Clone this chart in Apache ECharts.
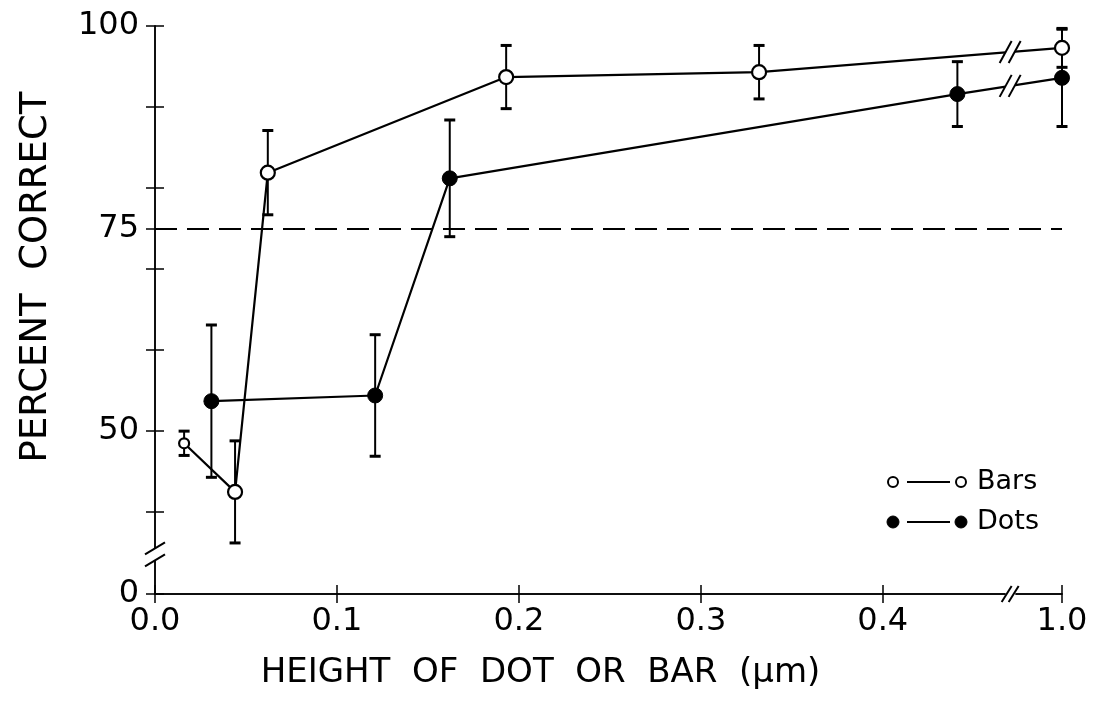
<!DOCTYPE html>
<html><head><meta charset="utf-8">
<script src="https://cdn.jsdelivr.net/npm/echarts@6/dist/echarts.min.js"></script>
<style>html,body{margin:0;padding:0;background:#fff}#c{width:1094px;height:709px}</style>
</head><body><div id="c"></div><script>
// ---- data ----
const xTickValues = [0, 0.1, 0.2, 0.3, 0.4, 1.0];
const xTickLabels = ['0.0', '0.1', '0.2', '0.3', '0.4', '1.0'];
const yTickValues = [0, 40, 50, 60, 70, 75, 80, 90, 100];
const yLabelValues = [0, 50, 75, 100];
const yLabelTexts = ['0', '50', '75', '100'];
const barsX = [0.016, 0.044, 0.062, 0.193, 0.332, 1.0];
const barsY = [48.5, 42.5, 81.9, 93.7, 94.3, 97.3];
const barsErr = [1.5, 6.3, 5.2, 3.9, 3.3, 2.4];
const dotsX = [0.031, 0.121, 0.162, 0.441, 1.0];
const dotsY = [53.7, 54.4, 81.2, 91.6, 93.6];
const dotsErr = [9.4, 7.5, 7.2, 4.0, 6.0];
const threshold = 75;
const xBreak = { start: 0.467, end: 0.9745, gap: 0.006 };
const yBreak = { start: 4.5, end: 35.2, gap: 0.8 };
const legendNames = ['Bars', 'Dots'];
const xTitle = 'HEIGHT  OF  DOT  OR  BAR  (μm)';
const yTitle = 'PERCENT  CORRECT';

const FONT = "'DejaVu Sans', 'Liberation Sans', sans-serif";
const chart = echarts.init(document.getElementById('c'), null, { renderer: 'canvas' });

function lookup(vals, texts, v) {
  for (let i = 0; i < vals.length; i++) if (Math.abs(vals[i] - v) < 1e-6) return texts[i];
  return '';
}

function xAxisCfg(inside, main) {
  return {
    type: 'value', min: 0, max: 1, position: 'bottom',
    breaks: [{ start: xBreak.start, end: xBreak.end, gap: xBreak.gap }],
    breakArea: { show: false, itemStyle: { opacity: 0, borderWidth: 0 } },
    axisLine: { show: true, onZero: false, lineStyle: { color: '#000', width: 1.5 } },
    axisTick: { show: true, inside: inside, length: 9, customValues: xTickValues, lineStyle: { color: '#000', width: 1.5 } },
    axisLabel: {
      show: main, customValues: xTickValues, margin: 12,
      formatter: v => lookup(xTickValues, xTickLabels, v),
      fontSize: 32, color: '#000', fontFamily: FONT
    },
    splitLine: { show: false },
    name: main ? xTitle : '', nameLocation: 'middle', nameGap: 62,
    nameTextStyle: { fontSize: 34, color: '#000', fontFamily: FONT, padding: [0, 136, 0, 0] }
  };
}
function yAxisCfg(inside, main) {
  return {
    type: 'value', min: 0, max: 100, position: 'left',
    breaks: [{ start: yBreak.start, end: yBreak.end, gap: yBreak.gap }],
    breakArea: { show: false, itemStyle: { opacity: 0, borderWidth: 0 } },
    axisLine: { show: true, onZero: false, lineStyle: { color: '#000', width: 1.5 } },
    axisTick: { show: true, inside: inside, length: 9, customValues: yTickValues, lineStyle: { color: '#000', width: 1.5 } },
    axisLabel: {
      show: main, customValues: yLabelValues, margin: 16,
      formatter: v => lookup(yLabelValues, yLabelTexts, v),
      fontSize: 32, color: '#000', fontFamily: FONT
    },
    splitLine: { show: false },
    name: main ? yTitle : '', nameLocation: 'middle', nameGap: 100, nameRotate: 90,
    nameTextStyle: { fontSize: 37, color: '#000', fontFamily: FONT, padding: [0, 0, 0, 66] }
  };
}

function errSeries(xs, ys, es) {
  return {
    type: 'custom', coordinateSystem: 'cartesian2d', xAxisIndex: 0, yAxisIndex: 0,
    silent: true, z: 1, animation: false,
    data: xs.map((x, i) => [x, ys[i] - es[i], ys[i] + es[i]]),
    encode: { x: 0, y: [1, 2] },
    renderItem: (params, api) => {
      const lo = api.coord([api.value(0), api.value(1)]);
      const hi = api.coord([api.value(0), api.value(2)]);
      const w = 5.5;
      return {
        type: 'group', children: [
          { type: 'line', shape: { x1: lo[0], y1: lo[1], x2: hi[0], y2: hi[1] }, style: { stroke: '#000', lineWidth: 2 } },
          { type: 'line', shape: { x1: lo[0] - w, y1: lo[1], x2: lo[0] + w, y2: lo[1] }, style: { stroke: '#000', lineWidth: 3 } },
          { type: 'line', shape: { x1: hi[0] - w, y1: hi[1], x2: hi[0] + w, y2: hi[1] }, style: { stroke: '#000', lineWidth: 3 } }
        ]
      };
    }
  };
}

const option = {
  animation: false,
  backgroundColor: '#fff',
  grid: { left: 155, right: 32, top: 26, bottom: 115, containLabel: false, outerBoundsMode: 'none' },
  xAxis: [xAxisCfg(true, true), xAxisCfg(false, false)],
  yAxis: [yAxisCfg(true, true), yAxisCfg(false, false)],
  series: [
    errSeries(barsX, barsY, barsErr),
    errSeries(dotsX, dotsY, dotsErr),
    {
      name: legendNames[0], type: 'line', xAxisIndex: 0, yAxisIndex: 0, z: 3,
      data: barsX.map((x, i) => ({ value: [x, barsY[i]], symbolSize: i === 0 ? 10 : 14 })),
      symbol: 'circle', symbolSize: 14,
      itemStyle: { color: '#fff', borderColor: '#000', borderWidth: 2.2 },
      lineStyle: { color: '#000', width: 2.2 },
      markLine: {
        silent: true, symbol: 'none', label: { show: false },
        lineStyle: { color: '#000', width: 2, type: [22, 10] },
        data: [{ yAxis: threshold }]
      }
    },
    {
      name: legendNames[1], type: 'line', xAxisIndex: 0, yAxisIndex: 0, z: 3,
      data: dotsX.map((x, i) => [x, dotsY[i]]),
      symbol: 'circle', symbolSize: 15,
      itemStyle: { color: '#000', borderColor: '#000', borderWidth: 1 },
      lineStyle: { color: '#000', width: 2.2 }
    }
  ]
};
chart.setOption(option);

// ---- decorations: break marks and legend ----
const px = v => chart.convertToPixel({ xAxisIndex: 0 }, v);
const py = v => chart.convertToPixel({ yAxisIndex: 0 }, v);
const gx = (px(xBreak.start) + px(xBreak.end)) / 2;
const gy = (py(yBreak.start) + py(yBreak.end)) / 2;
const axisY = py(0), axisX = px(0);

function steepPair(cx, cy, a, b, sep) {
  const s1 = cx - sep / 2, s2 = cx + sep / 2;
  const st = { stroke: '#000', lineWidth: 2 };
  return [
    { type: 'polygon', shape: { points: [[s1 - a, cy + b], [s1 + a, cy - b], [s2 + a, cy - b], [s2 - a, cy + b]] }, style: { fill: '#fff' }, z: 50 },
    { type: 'line', shape: { x1: s1 - a, y1: cy + b, x2: s1 + a, y2: cy - b }, style: st, z: 51 },
    { type: 'line', shape: { x1: s2 - a, y1: cy + b, x2: s2 + a, y2: cy - b }, style: st, z: 51 }
  ];
}
function shallowPair(cx, cy, a, b, sep) {
  const s1 = cy - sep / 2, s2 = cy + sep / 2;
  const st = { stroke: '#000', lineWidth: 2 };
  return [
    { type: 'polygon', shape: { points: [[cx - a, s1 + b], [cx + a, s1 - b], [cx + a, s2 - b], [cx - a, s2 + b]] }, style: { fill: '#fff' }, z: 50 },
    { type: 'line', shape: { x1: cx - a, y1: s1 + b, x2: cx + a, y2: s1 - b }, style: st, z: 51 },
    { type: 'line', shape: { x1: cx - a, y1: s2 + b, x2: cx + a, y2: s2 - b }, style: st, z: 51 }
  ];
}
function lineBreakY(xs, ys) {
  for (let i = 0; i < xs.length - 1; i++) {
    if (xs[i] <= xBreak.start && xs[i + 1] >= xBreak.end) {
      const p1 = chart.convertToPixel({ xAxisIndex: 0, yAxisIndex: 0 }, [xs[i], ys[i]]);
      const p2 = chart.convertToPixel({ xAxisIndex: 0, yAxisIndex: 0 }, [xs[i + 1], ys[i + 1]]);
      return p1[1] + (p2[1] - p1[1]) * (gx - p1[0]) / (p2[0] - p1[0]);
    }
  }
  return null;
}

let elements = [];
elements = elements.concat(steepPair(gx, axisY, 5, 8, 7));
elements = elements.concat(shallowPair(axisX, gy, 10, 6, 12));
const by = lineBreakY(barsX, barsY);
if (by !== null) elements = elements.concat(steepPair(gx, by, 6, 11, 9));
const dy = lineBreakY(dotsX, dotsY);
if (dy !== null) elements = elements.concat(steepPair(gx, dy, 6, 11, 9));

// legend
const legRows = [482, 522];
legRows.forEach((ly, i) => {
  const filled = i === 1;
  const r = filled ? 6 : 5;
  const cst = filled ? { fill: '#000', stroke: '#000', lineWidth: 1 } : { fill: '#fff', stroke: '#000', lineWidth: 2 };
  elements.push({ type: 'circle', shape: { cx: 893, cy: ly, r: r }, style: cst, z: 60 });
  elements.push({ type: 'line', shape: { x1: 907, y1: ly, x2: 950, y2: ly }, style: { stroke: '#000', lineWidth: 1.8 }, z: 60 });
  elements.push({ type: 'circle', shape: { cx: 961, cy: ly, r: r }, style: cst, z: 60 });
  elements.push({ type: 'text', x: 977, y: ly, style: { text: legendNames[i], fontSize: 27, fontFamily: FONT, fill: '#000', textAlign: 'left', textVerticalAlign: 'middle' }, z: 60 });
});
chart.setOption({ graphic: { elements: elements } });
</script></body></html>
